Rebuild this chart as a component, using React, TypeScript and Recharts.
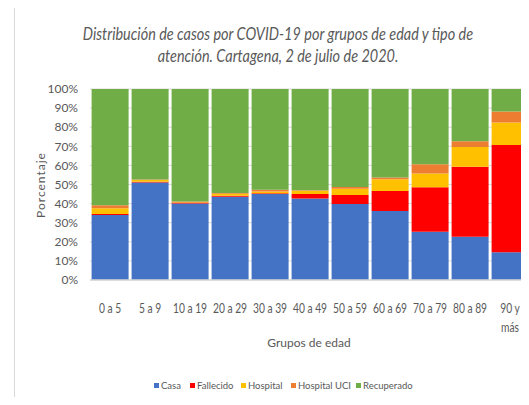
import { BarChart, Bar, XAxis, YAxis, CartesianGrid } from 'recharts';

const categories = ['0 a 5', '5 a 9', '10 a 19', '20 a 29', '30 a 39', '40 a 49', '50 a 59', '60 a 69', '70 a 79', '80 a 89', '90 y más'];
const casa = [34, 51, 40, 43.6, 45, 42.7, 39.8, 36.1, 25.3, 22.7, 14.5];
const fallecido = [0.6, 0.5, 0.6, 0.5, 0.4, 2.3, 4.7, 10.5, 23.2, 36.6, 56.2];
const hospital = [3, 0.9, 0.3, 1.1, 0.9, 1.7, 3.3, 6.1, 7.2, 10.3, 11.7];
const hospitalUci = [1.5, 0.2, 0.2, 0.3, 0.9, 0.3, 0.9, 0.9, 4.9, 3.1, 5.8];
const recuperado = [60.9, 47.4, 58.9, 54.5, 52.8, 53, 51.3, 46.4, 39.4, 27.3, 11.8];
const yTicks = [0, 10, 20, 30, 40, 50, 60, 70, 80, 90, 100];

const series = [
  { key: 'casa', name: 'Casa', color: '#4472C4' },
  { key: 'fallecido', name: 'Fallecido', color: '#FF0000' },
  { key: 'hospital', name: 'Hospital', color: '#FFC000' },
  { key: 'uci', name: 'Hospital UCI', color: '#ED7D31' },
  { key: 'recuperado', name: 'Recuperado', color: '#70AD47' },
];
// x position of each legend square
const legendX = [154, 190, 241, 291, 356];

const data = categories.map((name, i) => ({
  name,
  casa: casa[i],
  fallecido: fallecido[i],
  hospital: hospital[i],
  uci: hospitalUci[i],
  recuperado: recuperado[i],
}));

const FONT = 'Lato, "Noto Sans", sans-serif';
const GRAY = '#595959';

// narrow the labels a bit, the original font is condensed
const CategoryTick = (props: any) => {
  const { x, y, payload } = props;
  const label: string = payload.value;
  const lines = label === '90 y más' ? ['90 y', 'más'] : [label];
  return (
    <g transform={`translate(${x},${y}) scale(0.82,1)`}>
      <text x={0} y={0} textAnchor="middle" fill={GRAY} fontSize={12.5} fontFamily={FONT}>
        {lines.map((l, i) => (
          <tspan key={i} x={0} dy={i === 0 ? 25 : 19}>{l}</tspan>
        ))}
      </text>
    </g>
  );
};

export default function App() {
  return (
    <div style={{ position: 'relative', width: 529, height: 405, margin: -8, overflow: 'hidden', background: '#fff', fontFamily: FONT }}>
      <div style={{ position: 'absolute', left: 14, top: 7, width: 600, height: 500, borderLeft: '1px solid #d9d9d9', borderTop: '1px solid #d9d9d9' }} />
      <div style={{ position: 'absolute', left: 0, width: 556, top: 23, textAlign: 'center', color: GRAY, fontSize: 17, fontStyle: 'italic', lineHeight: '22px', whiteSpace: 'nowrap' }}>
        <div style={{ transform: 'scaleX(0.85)' }}>Distribución de casos por COVID-19 por grupos de edad y tipo de</div>
        <div style={{ transform: 'scaleX(0.85)' }}>atención. Cartagena, 2 de julio de 2020.</div>
      </div>
      <div style={{ position: 'absolute', left: 40, top: 185, transform: 'translate(-50%, -50%) rotate(-90deg)', color: GRAY, fontSize: 12, letterSpacing: 1, whiteSpace: 'nowrap' }}>
        Porcentaje
      </div>
      <div style={{ position: 'absolute', left: 0, width: 618, top: 335, textAlign: 'center', color: GRAY, fontSize: 12 }}>
        Grupos de edad
      </div>
      {series.map((s, i) => (
        <div key={s.key} style={{ position: 'absolute', left: legendX[i], top: 379, height: 12, display: 'flex', alignItems: 'center', gap: 2, color: GRAY, fontSize: 9.5, whiteSpace: 'nowrap' }}>
          <span style={{ width: 5, height: 5, background: s.color, display: 'inline-block' }} />
          {s.name}
        </div>
      ))}
      <div style={{ position: 'absolute', left: 0, top: 0 }}>
        <BarChart width={530} height={405} data={data} margin={{ top: 89, right: 0, bottom: 0, left: 0 }} barCategoryGap="4%">
          <CartesianGrid vertical={false} stroke="#d9d9d9" />
          <XAxis dataKey="name" height={125} tick={<CategoryTick />} tickLine={false} axisLine={{ stroke: '#d9d9d9', strokeWidth: 1.5 }} interval={0} />
          <YAxis width={90} domain={[0, 100]} ticks={yTicks} interval={0} tickFormatter={(v) => `${v}%`} tickLine={false} axisLine={false} tickSize={0} tickMargin={12} tick={{ fill: GRAY, fontSize: 12, fontFamily: FONT }} />
          {series.map((s) => (
            <Bar key={s.key} dataKey={s.key} name={s.name} stackId="a" fill={s.color} isAnimationActive={false} />
          ))}
        </BarChart>
      </div>
    </div>
  );
}
